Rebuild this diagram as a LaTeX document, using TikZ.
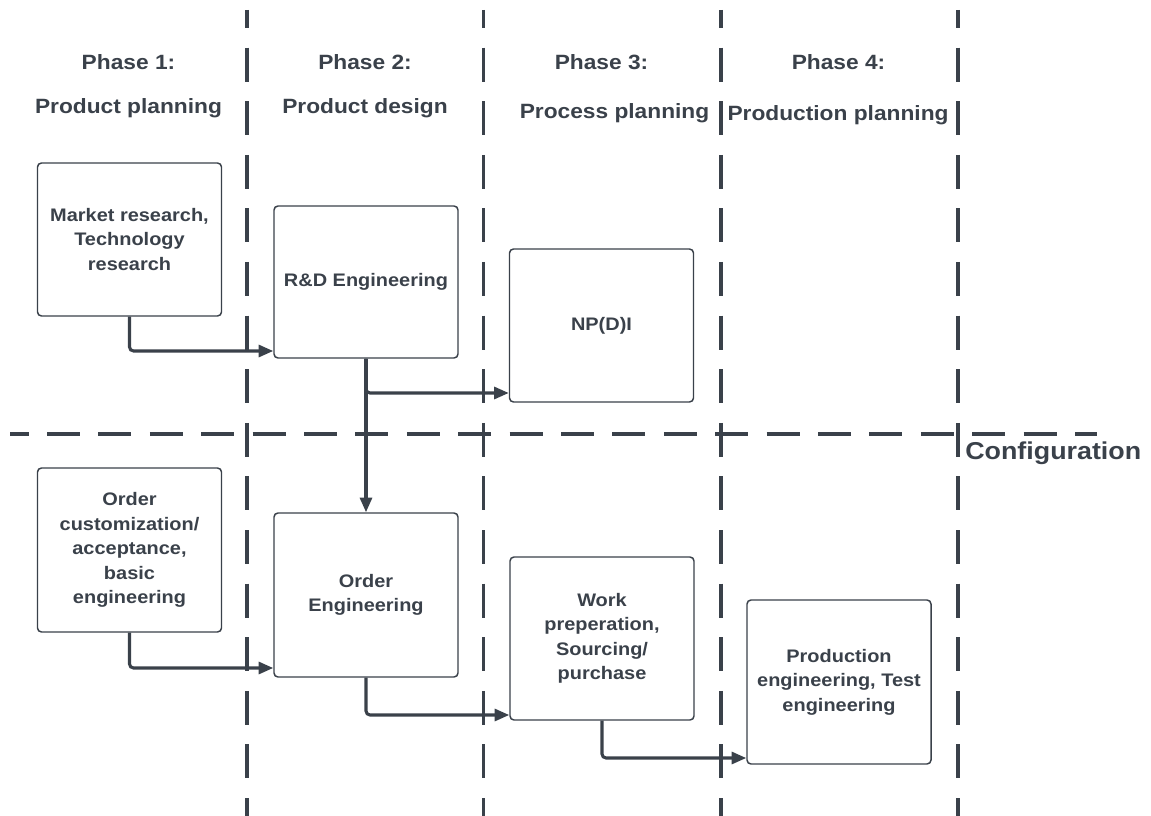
\documentclass[tikz,border=0pt]{standalone}
\usepackage{fontspec}
\newfontfamily\lblfont{Liberation Sans}[FakeStretch=1.1]
\usetikzlibrary{arrows.meta}
\definecolor{ink}{HTML}{3A414A}
\begin{document}
\begin{tikzpicture}[x=0.75pt,y=-0.75pt,
  stepbox/.style={draw=ink, line width=1.1pt, rounded corners=3pt, fill=white,
    align=center, text=ink, inner sep=0pt, minimum width=138pt,
    font=\lblfont\bfseries\fontsize{13.6}{18.4}\selectfont},
  phase/.style={text=ink, anchor=base, inner sep=0pt,
    font=\lblfont\bfseries\fontsize{15.5}{18}\selectfont},
  vlane/.style={draw=ink, line width=2.4pt, dash pattern=on 25.5pt off 14.7pt, dash phase=12pt},
  hlane/.style={draw=ink, line width=2.4pt, dash pattern=on 24.75pt off 13.8pt, dash phase=10.8pt},
  conn/.style={draw=ink, line width=2.3pt, rounded corners=3pt,
    -{Triangle[length=11pt,width=9pt]}},
]
\useasboundingbox (0,0) rectangle (1151,816);

% phase separators and the configuration boundary
\foreach \x in {247,483.5,721,958} \draw[vlane] (\x,10) -- (\x,816);
\draw[hlane] (10,434) -- (1097,434);

% phase headings
\node[phase] (p1) at (128.5,70) {Phase 1:};
\node[phase] (p1b) at (128.5,114) {Product planning};
\node[phase] (p2) at (365,70) {Phase 2:};
\node[phase] (p2b) at (365,114) {Product design};
\node[phase] (p3) at (601.5,70) {Phase 3:};
\node[phase] (p3b) at (614.5,119) {Process planning};
\node[phase] (p4) at (838.5,70) {Phase 4:};
\node[phase] (p4b) at (838,121) {Production planning};

\node[text=ink, anchor=base west, inner sep=0pt,
  font=\lblfont\bfseries\fontsize{18.3}{22}\selectfont] (cfg) at (965,459) {Configuration};

% activity boxes
\node[stepbox, minimum height=114.75pt] (mkt) at (129.5,239.5) {Market research,\\Technology\\research};
\node[stepbox, minimum height=114pt] (rd) at (366,282) {R\&D Engineering};
\node[stepbox, minimum height=114.75pt] (np) at (601.5,325.5) {NP(D)I};
\node[stepbox, minimum height=123pt] (cust) at (129.5,550) {Order\\customization/\\acceptance,\\basic\\engineering};
\node[stepbox, minimum height=123pt] (ord) at (366,595) {Order\\Engineering};
\node[stepbox, minimum height=122.25pt] (work) at (602,638.5) {Work\\preperation,\\Sourcing/\\purchase};
\node[stepbox, minimum height=123pt] (prod) at (839,682) {Production\\engineering, Test\\engineering};

% flow connectors
\draw[conn] (mkt.south) |- (rd.west |- 0,351);
\draw[conn] (rd.south) |- (np.west |- 0,393);
\draw[conn] (rd.south) -- (ord.north);
\draw[conn] (cust.south) |- (ord.west |- 0,668);
\draw[conn] (ord.south) |- (work.west |- 0,715);
\draw[conn] (work.south) |- (prod.west |- 0,758);
\end{tikzpicture}
\end{document}
